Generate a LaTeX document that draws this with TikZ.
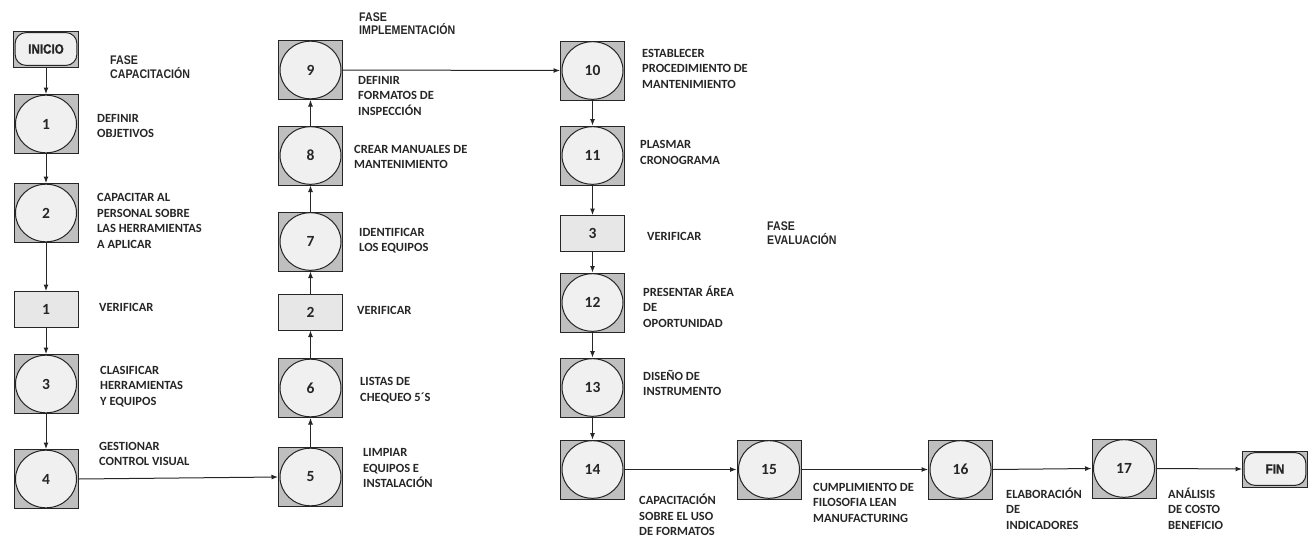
\documentclass[tikz,border=0pt]{standalone}
\usepackage{fontspec}
\setmainfont{Carlito}
\newfontfamily\narrowsans[FakeStretch=0.85]{Liberation Sans}
\newfontfamily\heavysans[FakeStretch=0.86, FakeBold=1.2]{Liberation Sans Bold}
\usetikzlibrary{arrows.meta}

\definecolor{boxgray}{HTML}{BFBFBF}
\definecolor{discfill}{HTML}{F0F0F0}
\definecolor{checkfill}{HTML}{E7E7E7}
\definecolor{ink}{HTML}{262626}

\begin{document}
\begin{tikzpicture}[x=1pt, y=-1pt,
  proc/.style={rectangle, draw=ink, line width=1pt, fill=boxgray,
    minimum width=64pt, minimum height=59pt, inner sep=0pt, text=ink,
    font=\bfseries\fontsize{15.5}{15.5}\selectfont,
    path picture={\draw[ink, line width=1pt, fill=discfill]
      (path picture bounding box.center) ellipse [x radius=30.5pt, y radius=28.8pt];}},
  check/.style={rectangle, draw=ink, line width=1pt, fill=checkfill,
    minimum width=64pt, minimum height=36pt, inner sep=0pt, text=ink,
    font=\bfseries\fontsize{15.5}{15.5}\selectfont},
  term/.style={rectangle, draw=ink, line width=1pt, fill=boxgray,
    minimum width=65pt, minimum height=36pt, inner sep=0pt, text=ink,
    font=\heavysans\fontsize{13.5}{13.5}\selectfont,
    path picture={\draw[ink, line width=1pt, fill=discfill, rounded corners=11pt]
      ([shift={(1.6pt,-1.6pt)}]path picture bounding box.north west) rectangle
      ([shift={(-1.6pt,1.6pt)}]path picture bounding box.south east);}},
  lab/.style={anchor=west, align=left, inner sep=0pt, text=ink,
    font=\bfseries\fontsize{12.5}{15.5}\selectfont},
  phase/.style={anchor=west, align=left, inner sep=0pt, text=ink,
    font=\narrowsans\bfseries\fontsize{12.5}{13.7}\selectfont},
  arr/.style={draw=ink, line width=1pt, -{Latex[length=6.5pt,width=5pt]}}
]
\useasboundingbox (0,0) rectangle (1313,538);

% column 1: capacitacion
\node[term]  (inicio) at (46,49)    {INICIO};
\node[proc]  (n1)     at (46,124)   {1};
\node[proc]  (n2)     at (46,213)   {2};
\node[check] (v1)     at (46,309.5) {1};
\node[proc]  (n3)     at (46,384)   {3};
\node[proc]  (n4)     at (46,479)   {4};

% column 2: upward chain
\node[proc]  (n5)  at (310.5,477)   {5};
\node[proc]  (n6)  at (310.5,388)   {6};
\node[check] (v2)  at (310.5,312)   {2};
\node[proc]  (n7)  at (310.5,241.5) {7};
\node[proc]  (n8)  at (310.5,155.5) {8};
\node[proc]  (n9)  at (310.5,70)    {9};

% column 3: implementacion / evaluacion
\node[proc]  (n10) at (592.5,70.5)  {10};
\node[proc]  (n11) at (592.5,155.5) {11};
\node[check] (v3)  at (592.5,233.5) {3};
\node[proc]  (n12) at (592.5,302.5) {12};
\node[proc]  (n13) at (592.5,387.5) {13};
\node[proc]  (n14) at (592.5,469.5) {14};

% bottom row
\node[proc]  (n15) at (769,469.5)  {15};
\node[proc]  (n16) at (960.5,469.5){16};
\node[proc]  (n17) at (1124,468.5) {17};
\node[term]  (fin) at (1275,469)   {FIN};

% phase titles
\node[phase] (ph1) at (110,67.3)  {FASE\\CAPACITACIÓN};
\node[phase] (ph2) at (359,23.6)  {FASE\\IMPLEMENTACIÓN};
\node[phase] (ph3) at (767,233.3) {FASE\\EVALUACIÓN};

% step descriptions
\node[lab] (t1)  at (97,125.8)  {DEFINIR\\OBJETIVOS};
\node[lab] (t2)  at (97,220.7)  {CAPACITAR AL\\PERSONAL SOBRE\\LAS HERRAMIENTAS\\A APLICAR};
\node[lab] (tv1) at (99,307.3)  {VERIFICAR};
\node[lab] (t3)  at (100,386.2) {CLASIFICAR\\HERRAMIENTAS\\Y EQUIPOS};
\node[lab] (t4)  at (99,453.8)  {GESTIONAR\\CONTROL VISUAL};
\node[lab] (t5)  at (363,468.3) {LIMPIAR\\EQUIPOS E\\INSTALACIÓN};
\node[lab] (t6)  at (360,390)   {LISTAS DE\\CHEQUEO 5´S};
\node[lab] (tv2) at (357,310.7) {VERIFICAR};
\node[lab] (t7)  at (359,240.5) {IDENTIFICAR\\LOS EQUIPOS};
\node[lab] (t8)  at (354,156.8) {CREAR MANUALES DE\\MANTENIMIENTO};
\node[lab] (t9)  at (358,95.8)  {DEFINIR\\FORMATOS DE\\INSPECCIÓN};
\node[lab] (t10) at (642,68.8)  {ESTABLECER\\PROCEDIMIENTO DE\\MANTENIMIENTO};
\node[lab] (t11) at (640,152.5) {PLASMAR\\CRONOGRAMA};
\node[lab] (tv3) at (647,236)   {VERIFICAR};
\node[lab] (t12) at (643,306.7) {PRESENTAR ÁREA\\DE\\OPORTUNIDAD};
\node[lab] (t13) at (643,382.8) {DISEÑO DE\\INSTRUMENTO};
\node[lab] (t14) at (639,515)   {CAPACITACIÓN\\SOBRE EL USO\\DE FORMATOS};
\node[lab] (t15) at (813,502.8) {CUMPLIMIENTO DE\\FILOSOFIA LEAN\\MANUFACTURING};
\node[lab] (t16) at (1006,508.7){ELABORACIÓN\\DE\\INDICADORES};
\node[lab] (t17) at (1168,508.7){ANÁLISIS\\DE COSTO\\BENEFICIO};

% connectors
\draw[arr] (inicio.south) -- (n1.north);
\draw[arr] (n1.south) -- (n2.north);
\draw[arr] (n2.south) -- (v1.north);
\draw[arr] (v1.south) -- (n3.north);
\draw[arr] (n3.south) -- (n4.north);
\draw[arr] (n4.east)  -- (n5.west);
\draw[arr] (n5.north) -- (n6.south);
\draw[arr] (n6.north) -- (v2.south);
\draw[arr] (v2.north) -- (n7.south);
\draw[arr] (n7.north) -- (n8.south);
\draw[arr] (n8.north) -- (n9.south);
\draw[arr] (n9.east)  -- (n10.west);
\draw[arr] (n10.south) -- (n11.north);
\draw[arr] (n11.south) -- (v3.north);
\draw[arr] (v3.south) -- (n12.north);
\draw[arr] (n12.south) -- (n13.north);
\draw[arr] (n13.south) -- (n14.north);
\draw[arr] (n14.east) -- (n15.west);
\draw[arr] (n15.east) -- (n16.west);
\draw[arr] (n16.east) -- (n17.west);
\draw[arr] (n17.east) -- (fin.west);
\end{tikzpicture}
\end{document}
